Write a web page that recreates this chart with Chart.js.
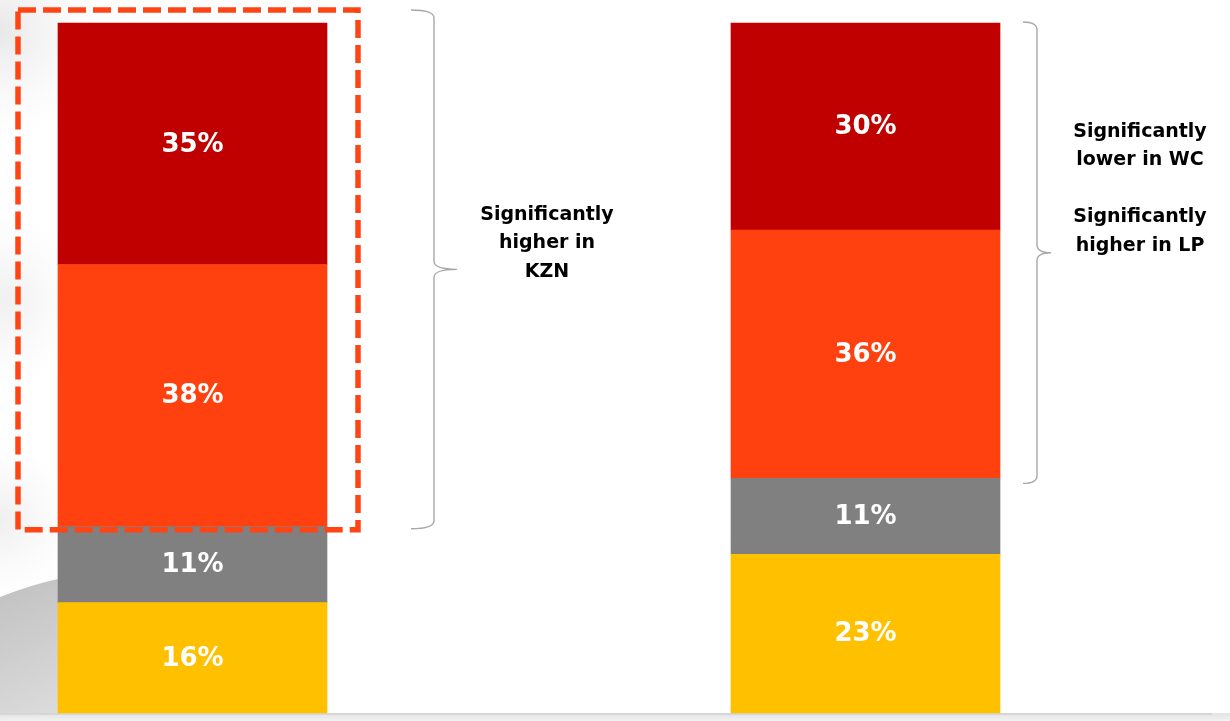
<!DOCTYPE html>
<html>
<head>
<meta charset="utf-8">
<script src="https://cdn.jsdelivr.net/npm/chart.js@4.4.1/dist/chart.umd.min.js"></script>
<style>
  html, body { margin: 0; padding: 0; background: #fff; }
  #wrap { width: 1230px; height: 721px; position: relative; }
</style>
</head>
<body>
<div id="wrap"><canvas id="chart"></canvas></div>
<script>
// data, stacked bottom -> top
const categories = ["Group 1", "Group 2"];
const seriesNames = ["Segment 4", "Segment 3", "Segment 2", "Segment 1"];
const yellowVals = [16, 23];
const greyVals = [11, 11];
const orangeVals = [38, 36];
const redVals = [35, 30];
const colors = ["#FFC000", "#808080", "#FF400F", "#C00000"];

const noteLeft = ["Significantly", "higher in", "KZN"];
const noteRight = ["Significantly", "lower in WC", "", "Significantly", "higher in LP"];

const labelFont = "bold 26px 'DejaVu Sans'";
const noteFont = "bold 19px 'DejaVu Sans'";

function drawBrace(ctx, x0, xs, xp, y1, y2) {
  const ym = (y1 + y2) / 2;
  const r = 8;
  ctx.beginPath();
  ctx.moveTo(x0, y1);
  ctx.quadraticCurveTo(xs, y1, xs, y1 + r);
  ctx.lineTo(xs, ym - r);
  ctx.quadraticCurveTo(xs, ym, xp, ym);
  ctx.quadraticCurveTo(xs, ym, xs, ym + r);
  ctx.lineTo(xs, y2 - r);
  ctx.quadraticCurveTo(xs, y2, x0, y2);
  ctx.stroke();
}

const backdrop = {
  id: "backdrop",
  beforeDraw(chart) {
    const ctx = chart.ctx;
    const area = chart.chartArea;
    ctx.save();
    ctx.fillStyle = "#fff";
    ctx.fillRect(0, 0, chart.width, chart.height);

    // faint grey swirl on the left edge
    let g = ctx.createRadialGradient(0, 30, 5, 0, 30, 110);
    g.addColorStop(0, "rgba(215,215,215,0.55)");
    g.addColorStop(1, "rgba(240,240,240,0)");
    ctx.fillStyle = g;
    ctx.fillRect(0, 0, 120, 150);

    g = ctx.createRadialGradient(0, 300, 10, 0, 300, 90);
    g.addColorStop(0, "rgba(225,225,225,0.45)");
    g.addColorStop(1, "rgba(240,240,240,0)");
    ctx.fillStyle = g;
    ctx.fillRect(0, 180, 100, 240);

    g = ctx.createRadialGradient(0, 520, 5, 0, 520, 80);
    g.addColorStop(0, "rgba(225,225,225,0.5)");
    g.addColorStop(1, "rgba(240,240,240,0)");
    ctx.fillStyle = g;
    ctx.fillRect(0, 440, 90, 150);

    // darker curved shape bottom-left
    g = ctx.createLinearGradient(0, 590, 60, 714);
    g.addColorStop(0, "#c2c2c2");
    g.addColorStop(1, "#dcdcdc");
    ctx.fillStyle = g;
    ctx.beginPath();
    ctx.moveTo(0, 597);
    ctx.quadraticCurveTo(30, 585, 62, 578);
    ctx.lineTo(62, 714);
    ctx.lineTo(0, 714);
    ctx.closePath();
    ctx.fill();

    // bottom strip + axis line
    g = ctx.createLinearGradient(0, 714, 0, 721);
    g.addColorStop(0, "#e4e4e4");
    g.addColorStop(1, "#f2f2f2");
    ctx.fillStyle = g;
    ctx.fillRect(0, area.bottom, chart.width, chart.height - area.bottom);
    ctx.strokeStyle = "#d6d6d6";
    ctx.lineWidth = 2;
    ctx.beginPath();
    ctx.moveTo(0, area.bottom + 1);
    ctx.lineTo(1212, area.bottom + 1);
    ctx.stroke();
    ctx.restore();
  }
};

const overlays = {
  id: "overlays",
  afterDatasetsDraw(chart) {
    const ctx = chart.ctx;
    ctx.save();

    // value labels
    ctx.font = labelFont;
    ctx.fillStyle = "#fff";
    ctx.textAlign = "center";
    ctx.textBaseline = "middle";
    chart.data.datasets.forEach((ds, i) => {
      chart.getDatasetMeta(i).data.forEach((el, j) => {
        ctx.fillText(ds.data[j] + "%", el.x, (el.y + el.base) / 2 + 1);
      });
    });

    const orange = chart.getDatasetMeta(2).data;
    const red = chart.getDatasetMeta(3).data;

    // dashed box round the top two segments of bar 1
    const b1 = red[0];
    const half = b1.width / 2;
    const l = b1.x - half - 40, r = b1.x + half + 31;
    const t = b1.y - 13, bot = orange[0].base + 3;
    ctx.strokeStyle = "#FF4514";
    ctx.lineWidth = 5.5;
    ctx.setLineDash([18, 7]);
    ctx.strokeRect(l, t, r - l, bot - t);
    ctx.setLineDash([]);

    // braces
    ctx.strokeStyle = "#a8a8a8";
    ctx.lineWidth = 1.4;
    const x1 = b1.x + half;
    drawBrace(ctx, x1 + 84, x1 + 107, x1 + 130, t, bot - 1);
    const b2 = red[1];
    const x2 = b2.x + b2.width / 2;
    drawBrace(ctx, x2 + 23, x2 + 37, x2 + 51, b2.y - 1, orange[1].base + 5);

    // notes
    ctx.fillStyle = "#000";
    ctx.font = noteFont;
    noteLeft.forEach((s, k) => ctx.fillText(s, 547, 215 + k * 28.5));
    noteRight.forEach((s, k) => { if (s) ctx.fillText(s, 1140, 132 + k * 28.5); });

    ctx.restore();
  }
};

const datasets = [yellowVals, greyVals, orangeVals, redVals].map((vals, i) => ({
  label: seriesNames[i],
  data: vals,
  backgroundColor: colors[i],
  borderWidth: 0,
  barThickness: 269,
  clip: false
}));

new Chart(document.getElementById("chart"), {
  type: "bar",
  data: { labels: categories, datasets },
  options: {
    responsive: true,
    maintainAspectRatio: false,
    animation: false,
    layout: { padding: { left: 192.5, right: 364.5, top: 23, bottom: 8 } },
    plugins: { legend: { display: false }, tooltip: { enabled: false } },
    scales: {
      x: { stacked: true, offset: false, display: false },
      y: { stacked: true, min: 0, max: 100, display: false }
    }
  },
  plugins: [backdrop, overlays]
});
</script>
</body>
</html>
